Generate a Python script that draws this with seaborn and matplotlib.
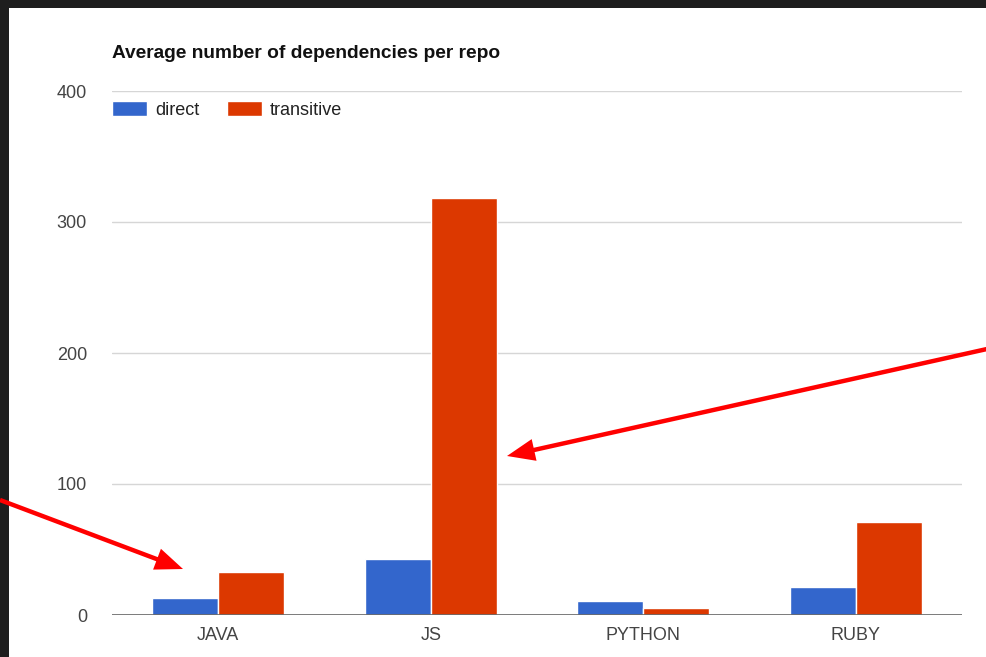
import pandas as pd
import numpy as np
import matplotlib.pyplot as plt
import seaborn as sns
from matplotlib.patches import Rectangle

# Values
languages = ['JAVA', 'JS', 'PYTHON', 'RUBY']
direct = [13, 43, 11, 21]
transitive = [33, 318, 5, 71]
yticks = [0, 100, 200, 300, 400]

df = pd.DataFrame({
    'lang': languages * 2,
    'kind': ['direct'] * 4 + ['transitive'] * 4,
    'deps': direct + transitive,
})

sns.set_style('white')
plt.rcParams['font.family'] = ['Liberation Sans', 'DejaVu Sans']

W, H = 987, 657
fig = plt.figure(figsize=(W / 100, H / 100), dpi=100, facecolor='#1e1e1e')
# white page inside the dark screenshot border
fig.patches.append(Rectangle((9 / W, 0), 1, 1 - 8 / H, transform=fig.transFigure,
                             facecolor='white', edgecolor='none', zorder=-1))

ax = fig.add_axes([112 / W, 1 - 615 / H, 850 / W, 524 / H])
ax.set_facecolor('none')

sns.barplot(data=df, x='lang', y='deps', hue='kind', width=0.62,
            palette={'direct': '#3366cc', 'transitive': '#dc3800'},
            saturation=1, ax=ax, zorder=3)

ax.set_ylim(0, 400)
ax.set_xlim(-0.5, 3.5)
ax.set_yticks(yticks)
ax.grid(axis='y', color='#d6d6d6', lw=1, zorder=0)
ax.axhline(0, color='#666666', lw=1.2, zorder=4)
for s in ax.spines.values():
    s.set_visible(False)
ax.tick_params(axis='both', length=0, labelsize=13, labelcolor='#444444')
ax.tick_params(axis='y', pad=18)
ax.tick_params(axis='x', pad=9)
ax.set_xlabel('')
ax.set_ylabel('')

ax.legend(loc='center left', bbox_to_anchor=(0, (615 - 110) / 524), ncol=2,
          frameon=False, fontsize=13, borderpad=0, borderaxespad=0,
          handlelength=1.95, handleheight=0.9, handletextpad=0.45,
          columnspacing=1.5, labelcolor='#222222')

fig.text(112 / W, 1 - 53 / H, 'Average number of dependencies per repo',
         fontsize=13.8, fontweight='bold', color='#111111', va='center', ha='left')

# red pointer arrows
for start, tip in [((0, H - 500), (183, H - 569)), ((W, H - 349), (507, H - 456))]:
    ax.annotate('', xy=tip, xytext=start, xycoords='figure pixels',
                textcoords='figure pixels', annotation_clip=False,
                arrowprops=dict(color='#ff0000', width=3.2, headwidth=16,
                                headlength=20, shrink=0, lw=0))

fig.savefig('out.png', dpi=100, facecolor=fig.get_facecolor())
